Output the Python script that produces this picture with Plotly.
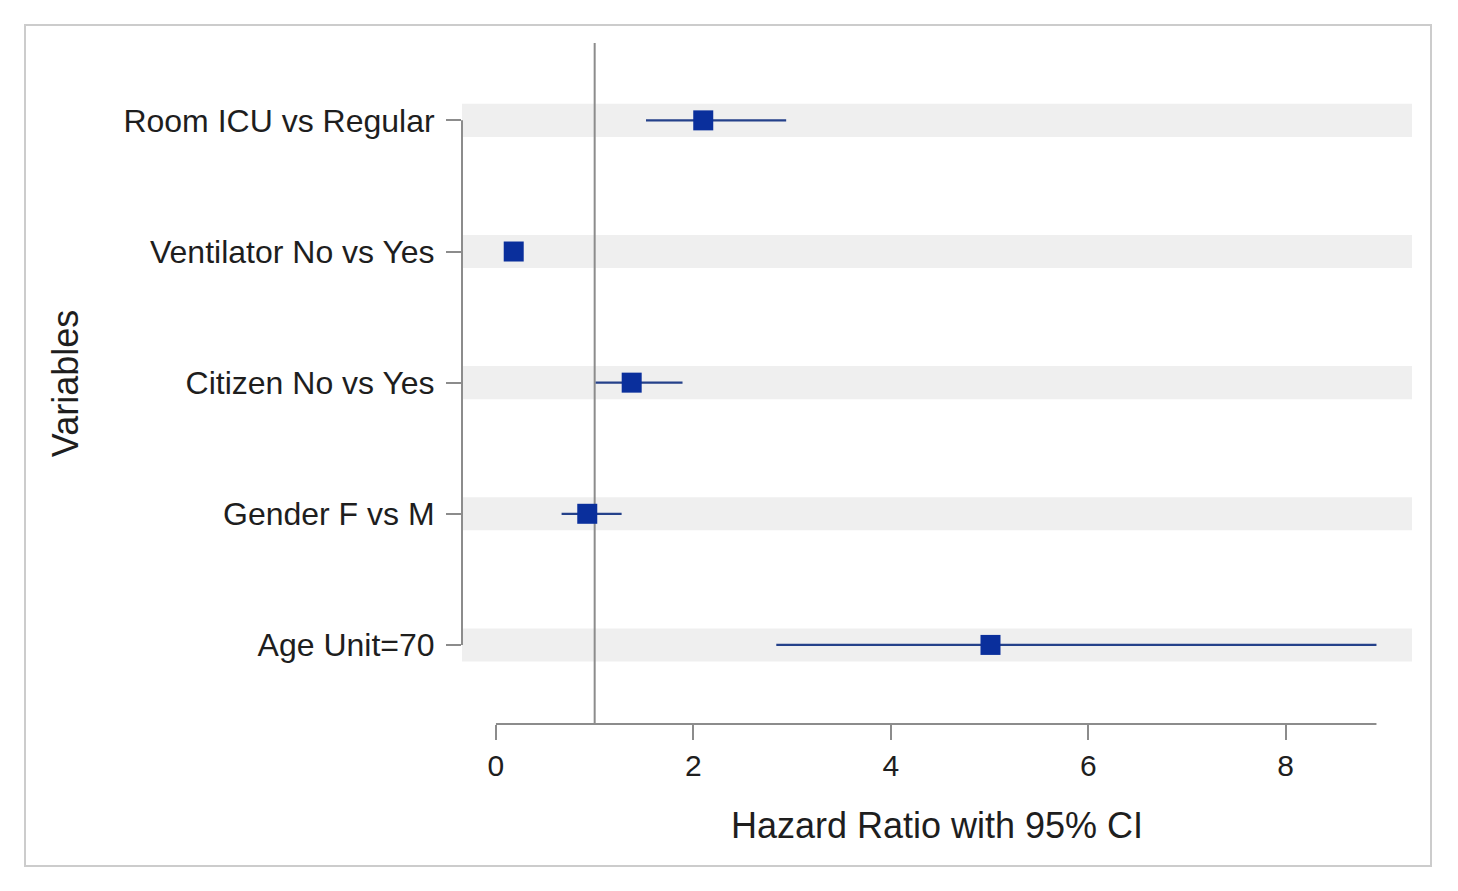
import plotly.graph_objects as go

# ---- data ----
variables = ["Age Unit=70", "Gender F vs M", "Citizen No vs Yes",
             "Ventilator No vs Yes", "Room ICU vs Regular"]
hazard_ratio = [5.01, 0.925, 1.375, 0.18, 2.10]
ci_lower = [2.84, 0.665, 1.01, 0.11, 1.52]
ci_upper = [8.92, 1.273, 1.89, 0.27, 2.94]
x_ticks = [0, 2, 4, 6, 8]
reference_value = 1

ypos = list(range(len(variables)))
err_plus = [u - h for u, h in zip(ci_upper, hazard_ratio)]
err_minus = [h - l for h, l in zip(hazard_ratio, ci_lower)]

AX = "#8c8c8c"
TXT = "#1e1e1e"
FONT = "Liberation Sans, Arial, sans-serif"

fig = go.Figure()
fig.add_trace(go.Scatter(
    x=hazard_ratio, y=ypos, mode="markers",
    marker=dict(symbol="square", size=20, color="#0a2f9c",
                line=dict(width=0)),
    error_x=dict(type="data", symmetric=False, array=err_plus,
                 arrayminus=err_minus, width=0, thickness=2.2,
                 color="#24418a"),
    showlegend=False, hoverinfo="x+y",
))

shapes = []
# bands behind each category
for y in ypos:
    shapes.append(dict(type="rect", xref="paper", yref="y", x0=0, x1=1,
                       y0=y - 0.126, y1=y + 0.126, fillcolor="#efefef",
                       line=dict(width=0), layer="below"))
# reference line
shapes.append(dict(type="line", xref="x", yref="paper", x0=reference_value,
                   x1=reference_value, y0=0, y1=1,
                   line=dict(color="#8c8c8c", width=2), layer="below"))
# y axis line spanning categories
shapes.append(dict(type="line", xref="paper", yref="y", x0=0, x1=0,
                   y0=min(ypos), y1=max(ypos),
                   line=dict(color=AX, width=2)))
# x axis line spanning data range
shapes.append(dict(type="line", xref="x", yref="paper", x0=0,
                   x1=max(ci_upper), y0=0, y1=0,
                   line=dict(color=AX, width=2)))
# outer frame
shapes.append(dict(type="rect", xref="paper", yref="paper",
                   x0=-0.46, x1=1.02, y0=-0.2085, y1=1.0264,
                   line=dict(color="#cccccc", width=2), fillcolor="rgba(0,0,0,0)"))

fig.update_layout(
    width=1458, height=891,
    margin=dict(l=454, r=54, t=35, b=175, autoexpand=False),
    paper_bgcolor="white", plot_bgcolor="white",
    font=dict(family=FONT, color=TXT, size=30),
    shapes=shapes,
    xaxis=dict(range=[-0.344, 9.28], tickvals=x_ticks,
               ticktext=[str(t) for t in x_ticks],
               showgrid=False, zeroline=False, showline=False,
               ticks="outside", ticklen=15, tickwidth=2, tickcolor=AX,
               tickfont=dict(size=30, family=FONT, color=TXT),
               title=dict(text="Hazard Ratio with 95% CI",
                          font=dict(size=36, family=FONT, color=TXT),
                          standoff=31)),
    yaxis=dict(range=[-0.603, 4.59], tickvals=ypos, ticktext=variables,
               showgrid=False, zeroline=False, showline=False,
               ticks="outside", ticklen=15, tickwidth=2, tickcolor=AX,
               tickfont=dict(size=32, family=FONT, color=TXT),
               ticklabelstandoff=5,
               title=dict(text="Variables",
                          font=dict(size=36, family=FONT, color=TXT),
                          standoff=33)),
)

fig.write_html("out.html")
